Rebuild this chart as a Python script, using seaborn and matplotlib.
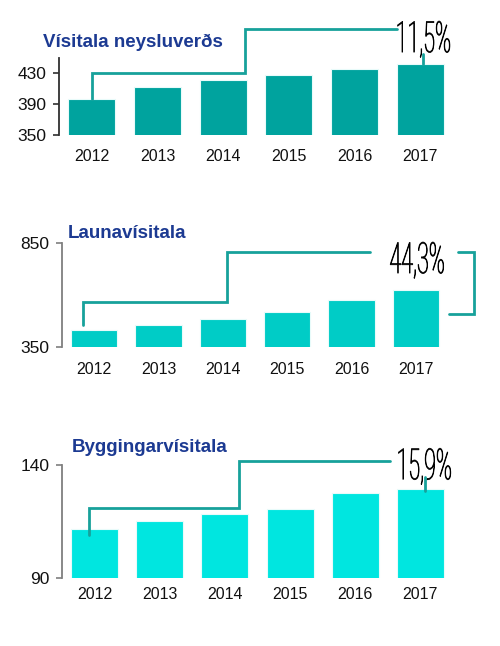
import matplotlib
matplotlib.use("Agg")
import matplotlib.pyplot as plt
import matplotlib.patheffects as pe
from matplotlib.transforms import Affine2D
import seaborn as sns
import pandas as pd

years = ["2012", "2013", "2014", "2015", "2016", "2017"]
cpi_values = [396.5, 412.4, 421.0, 427.4, 434.7, 442.2]
wage_values = [431, 455, 482, 516, 576, 622]
build_values = [111.7, 115.3, 118.4, 120.4, 127.8, 129.5]
titles = ["Vísitala neysluverðs", "Launavísitala", "Byggingarvísitala"]
pct_labels = ["11,5%", "44,3%", "15,9%"]
cpi_ticks = [350, 390, 430]
wage_ticks = [350, 850]
build_ticks = [90, 140]

sns.set_style("ticks")
plt.rcParams["font.family"] = ["Liberation Sans", "DejaVu Sans"]

W, H = 500, 646
fig = plt.figure(figsize=(W / 100, H / 100), dpi=100)


class Squash(pe.AbstractPathEffect):
    """Draw text narrower (condensed look) around its own centre, lightly stroked."""
    def __init__(self, sx, stroke=0.5):
        super().__init__()
        self.sx = sx
        self.stroke = stroke

    def draw_path(self, renderer, gc, tpath, affine, rgbFace=None):
        ext = tpath.get_extents(affine)
        cx = (ext.x0 + ext.x1) / 2
        t = affine + Affine2D().translate(-cx, 0).scale(self.sx, 1).translate(cx, 0)
        gc0 = renderer.new_gc()
        gc0.copy_properties(gc)
        gc0.set_linewidth(self.stroke)
        gc0.set_foreground(rgbFace if rgbFace is not None else "black")
        renderer.draw_path(gc0, tpath, t, rgbFace)
        gc0.restore()


def px_axes(x0, x1, ytop, ybot):
    return fig.add_axes([x0 / W, 1 - ybot / H, (x1 - x0) / W, (ybot - ytop) / H])


line_col = "#17a19b"
title_col = "#1c3a92"
pct_kw = dict(ha="center", va="baseline", fontsize=31, family=["Roboto", "DejaVu Sans"],
              fontweight="light", color="#000000", clip_on=False,
              path_effects=[Squash(0.5, 0.55)])

panels = [
    dict(vals=cpi_values, ticks=cpi_ticks, ylim=(350, 449.4), box=(59, 453, 58, 135),
         color="#00a39e", spine="#303030", title_xy=(43, 42), pad=10),
    dict(vals=wage_values, ticks=wage_ticks, ylim=(350, 850), box=(62, 448, 243.3, 346.7),
         color="#00ccc6", spine="#7f7f7f", title_xy=(68, 234), pad=11),
    dict(vals=build_values, ticks=build_ticks, ylim=(90, 140), box=(62, 453, 465, 578.3),
         color="#00e6e0", spine="#7f7f7f", title_xy=(72, 447.3), pad=6),
]

axes = []
for i, p in enumerate(panels):
    ax = px_axes(*p["box"])
    df = pd.DataFrame({"year": years, "value": p["vals"]})
    sns.barplot(data=df, x="year", y="value", ax=ax, color=p["color"], width=0.72,
                saturation=1, edgecolor="#e8fbfa", linewidth=0.8)
    ax.set_xlim(-0.5, 5.5)
    ax.set_ylim(*p["ylim"])
    ax.set_yticks(p["ticks"])
    ax.set_yticklabels([str(t) for t in p["ticks"]])
    ax.set_xlabel("")
    ax.set_ylabel("")
    for s in ["top", "right", "bottom"]:
        ax.spines[s].set_visible(False)
    ax.spines["left"].set_color(p["spine"])
    ax.spines["left"].set_linewidth(1.3)
    ax.tick_params(axis="y", length=4, width=1.2, color=p["spine"], labelsize=12.5,
                   pad=5, labelcolor="#111111")
    ax.tick_params(axis="x", length=0, labelsize=11.5, pad=p["pad"], labelcolor="#111111")
    ax.set_facecolor("none")
    fig.text(p["title_xy"][0] / W, 1 - p["title_xy"][1] / H, titles[i],
             fontsize=13.5, fontweight="bold", color=title_col, ha="left", va="center")
    axes.append(ax)

lw = 2.0
# Panel 1 connector
ax = axes[0]
v = cpi_values
ax.plot([0.01, 0.01, 2.33, 2.33, 4.64], [v[0], 430, 430, 487, 487],
        color=line_col, lw=lw, clip_on=False, solid_joinstyle="miter")
ax.plot([5.04, 5.04], [v[-1], 454.5], color=line_col, lw=lw, clip_on=False)
ax.text(5.04, 457, pct_labels[0], **pct_kw)

# Panel 2 connector
ax = axes[1]
v = wage_values
ax.plot([-0.166, -0.166, 2.07, 2.07, 4.28], [v[0] + 25, 566, 566, 806.5, 806.5],
        color=line_col, lw=lw, clip_on=False, solid_joinstyle="miter")
ax.plot([5.66, 5.91, 5.91, 5.52], [806.5, 806.5, 508, 508],
        color=line_col, lw=lw, clip_on=False, solid_joinstyle="miter")
ax.text(5.02, 706, pct_labels[1], **pct_kw)

# Panel 3 connector
ax = axes[2]
v = build_values
ax.plot([-0.08, -0.08, 2.21, 2.21, 4.53], [v[0] - 2.6, 120.9, 120.9, 141.9, 141.9],
        color=line_col, lw=lw, clip_on=False, solid_joinstyle="miter")
ax.plot([5.07, 5.07], [v[-1] - 1.0, 134.8], color=line_col, lw=lw, clip_on=False)
ax.text(5.05, 133.7, pct_labels[2], **pct_kw)

fig.savefig("out.png", dpi=100, facecolor="white")
